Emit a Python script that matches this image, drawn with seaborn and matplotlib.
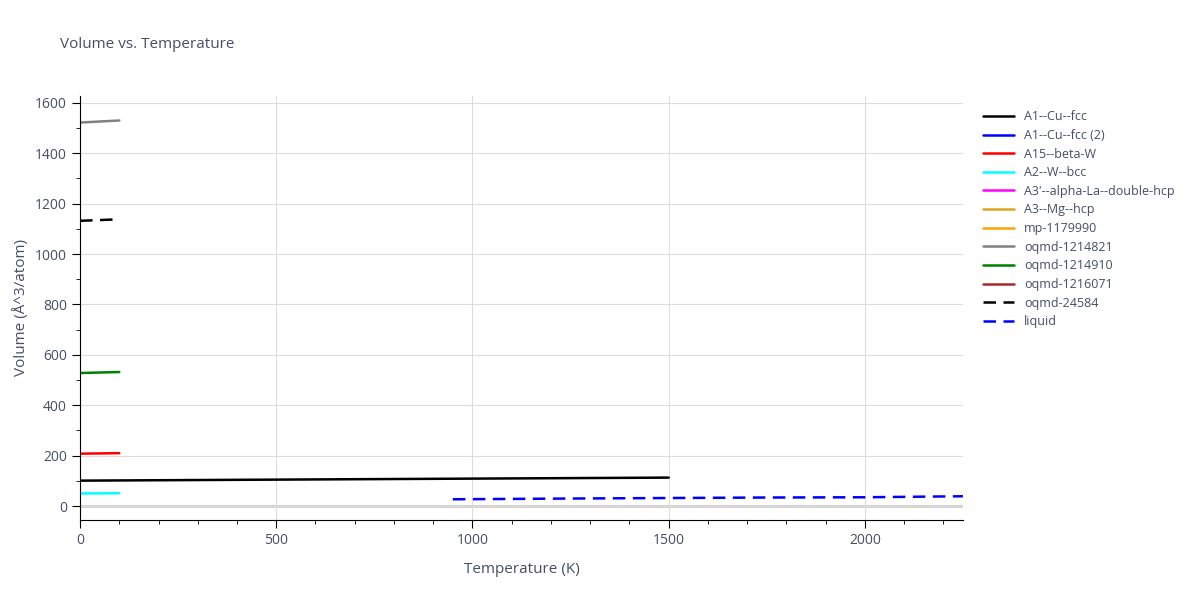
import matplotlib
matplotlib.use("Agg")
import matplotlib.pyplot as plt
import seaborn as sns
import pandas as pd

# phase curves
names = ["A1--Cu--fcc", "A1--Cu--fcc (2)", "A15--beta-W", "A2--W--bcc",
         "A3'--alpha-La--double-hcp", "A3--Mg--hcp", "mp-1179990",
         "oqmd-1214821", "oqmd-1214910", "oqmd-1216071", "oqmd-24584", "liquid"]
colors = ["black", "blue", "red", "cyan", "magenta", "goldenrod", "orange",
          "grey", "green", "brown", "black", "blue"]
dashed = ["oqmd-24584", "liquid"]

temps = {
    "A1--Cu--fcc": [0, 500, 1000, 1500],
    "A15--beta-W": [0, 100],
    "A2--W--bcc": [0, 100],
    "oqmd-1214821": [0, 100],
    "oqmd-1214910": [0, 100],
    "oqmd-24584": [0, 100],
    "liquid": [950, 1250, 1500, 1750, 2000, 2250],
}
vols = {
    "A1--Cu--fcc": [101, 105, 109, 113],
    "A15--beta-W": [208, 210],
    "A2--W--bcc": [50, 51],
    "oqmd-1214821": [1522, 1530],
    "oqmd-1214910": [528, 532],
    "oqmd-24584": [1132, 1138],
    "liquid": [27, 30, 32, 34, 35, 39],
}

sns.set_style("whitegrid", {"grid.color": "#dddddd", "axes.edgecolor": "white"})
plt.rcParams["font.family"] = ["Open Sans", "DejaVu Sans"]
text_c = "#444e66"

fig = plt.figure(figsize=(12, 6), dpi=100)
ax = fig.add_axes([0.0667, 0.133, 0.7358, 0.709])

for name, col in zip(names, colors):
    ls = (0, (5, 3)) if name in dashed else "-"
    if name in temps:
        df = pd.DataFrame({"T": temps[name], "V": vols[name]})
        sns.lineplot(data=df, x="T", y="V", ax=ax, color=col, lw=1.8,
                     linestyle=ls, label=name)
    else:
        ax.plot([], [], color=col, lw=1.8, linestyle=ls, label=name)

ax.axhline(0, color="#cccccc", lw=2, zorder=0)
ax.set_xlim(0, 2250)
ax.set_ylim(-56, 1632)
ax.set_xticks([0, 500, 1000, 1500, 2000])
ax.set_xticks(range(100, 2250, 100), minor=True)
ax.set_yticks(range(0, 1601, 200))
ax.set_yticks(range(0, 1601, 100), minor=True)
ax.tick_params(which="both", direction="out", colors=text_c, labelsize=10)
ax.tick_params(which="major", length=6, color="black")
ax.tick_params(which="minor", length=3, color="black", bottom=True, left=True)
ax.tick_params(bottom=True, left=True)
ax.spines["left"].set_color("black")
ax.spines["bottom"].set_color("black")
ax.set_xlabel("Temperature (K)", color=text_c, fontsize=11, labelpad=10)
ax.set_ylabel("Volume (Å^3/atom)", color=text_c, fontsize=11)
fig.text(0.05, 0.92, "Volume vs. Temperature", color=text_c, fontsize=11)

leg = ax.legend(loc="upper left", bbox_to_anchor=(1.01, 0.99), frameon=False,
                fontsize=9, handlelength=2.5, labelspacing=0.45)
for t in leg.get_texts():
    t.set_color(text_c)

fig.savefig("out.png")
